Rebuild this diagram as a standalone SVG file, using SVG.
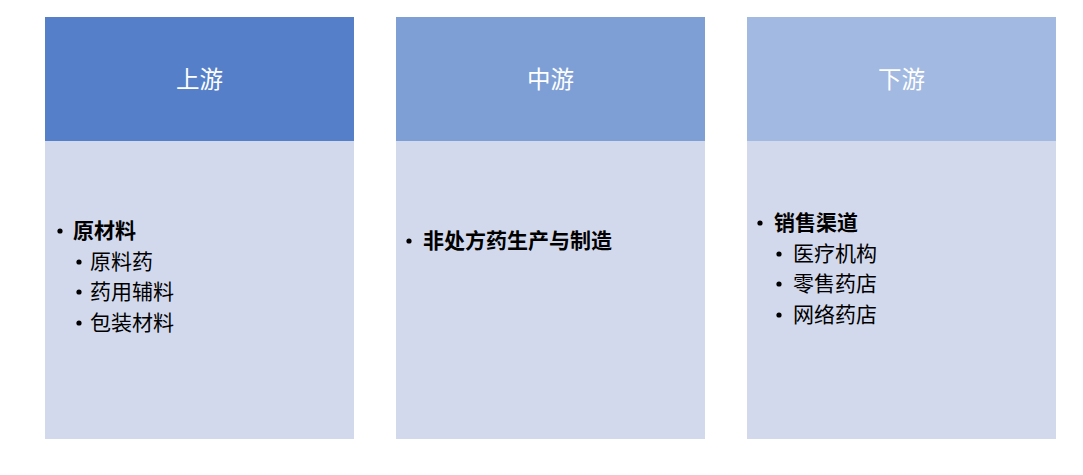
<svg xmlns="http://www.w3.org/2000/svg" width="1083" height="475" viewBox="0 0 1083 475">
<style>
.hd{font-family:"Noto Sans CJK SC","Liberation Sans",sans-serif;font-size:23.5px;fill:#ffffff;text-anchor:middle}
.t{font-family:"Noto Sans CJK SC","Liberation Sans",sans-serif;font-size:21px;fill:#000000}
.b{font-weight:bold}
.body{fill:#D3D9EC}
</style>
<rect width="1083" height="475" fill="#ffffff"/>
<g id="col-upstream">
<rect x="45" y="17" width="309" height="124" fill="#5580C9"/>
<rect class="body" x="45" y="141" width="309" height="298"/>
<text class="hd" x="199.5" y="88">上游</text>
<circle cx="60" cy="231" r="2.6"/>
<text class="t b" x="73" y="238">原材料</text>
<circle cx="79" cy="262" r="2.6"/>
<text class="t" x="90" y="269">原料药</text>
<circle cx="79" cy="292" r="2.6"/>
<text class="t" x="90" y="299">药用辅料</text>
<circle cx="79" cy="323" r="2.6"/>
<text class="t" x="90" y="330">包装材料</text>
</g>
<g id="col-midstream">
<rect x="396" y="17" width="309" height="124" fill="#7E9FD6"/>
<rect class="body" x="396" y="141" width="309" height="298"/>
<text class="hd" x="550.5" y="88">中游</text>
<circle cx="409" cy="241" r="2.6"/>
<text class="t b" x="423" y="248">非处方药生产与制造</text>
</g>
<g id="col-downstream">
<rect x="747" y="17" width="309" height="124" fill="#A2B9E1"/>
<rect class="body" x="747" y="141" width="309" height="298"/>
<text class="hd" x="901.5" y="88">下游</text>
<circle cx="760" cy="223" r="2.6"/>
<text class="t b" x="774" y="230">销售渠道</text>
<circle cx="779" cy="254" r="2.6"/>
<text class="t" x="793" y="261">医疗机构</text>
<circle cx="779" cy="284" r="2.6"/>
<text class="t" x="793" y="291">零售药店</text>
<circle cx="779" cy="315" r="2.6"/>
<text class="t" x="793" y="322">网络药店</text>
</g>
<g id="connectors"></g>
</svg>
